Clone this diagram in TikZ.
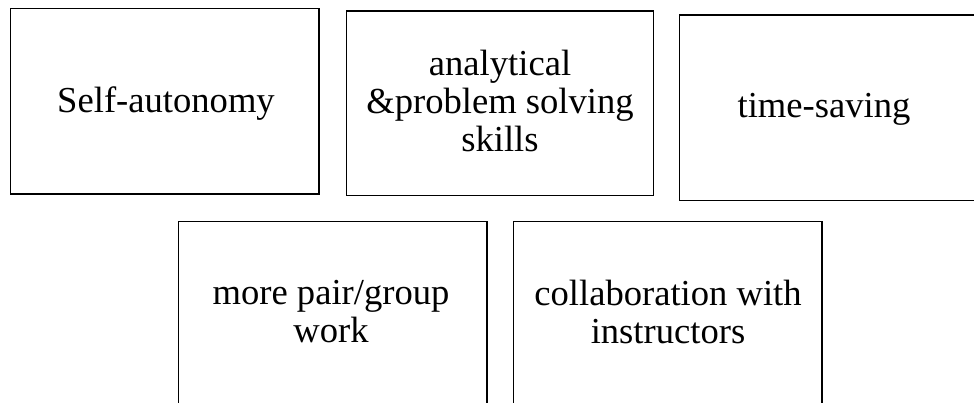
\documentclass[tikz,border=0pt]{standalone}
\usepackage{fontspec}
\setmainfont{Liberation Serif}
\begin{document}
\begin{tikzpicture}[x=1pt,y=-1pt,
  box/.style={draw=black, line width=1.3pt, rectangle, inner sep=0pt, outer sep=0pt},
  lbl/.style={align=center, inner sep=0pt, font=\fontsize{36.6pt}{38pt}\selectfont}]
\useasboundingbox (0,0) rectangle (974,403);
\node[box, minimum width=308.5pt, minimum height=185.5pt] (b1) at (164.75,101.25) {};
\node[box, minimum width=307pt, minimum height=184.7pt] (b2) at (500.2,103.35) {};
\node[box, minimum width=305.3pt, minimum height=185.7pt] (b3) at (832.35,107.85) {};
\node[box, minimum width=308.3pt, minimum height=184.7pt] (b4) at (332.85,313.65) {};
\node[box, minimum width=308.7pt, minimum height=184.7pt] (b5) at (667.65,313.65) {};
\node[lbl] (t1) at (166,103.3) {Self-autonomy};
\node[lbl] (t2) at (500,100.5) {analytical\\\&problem solving\\skills};
\node[lbl] (t3) at (824,109.6) {time-saving};
\node[lbl] (t4) at (331,311.9) {more pair/group\\work};
\node[lbl] (t5) at (668,311.9) {collaboration with\\instructors};
\end{tikzpicture}
\end{document}
